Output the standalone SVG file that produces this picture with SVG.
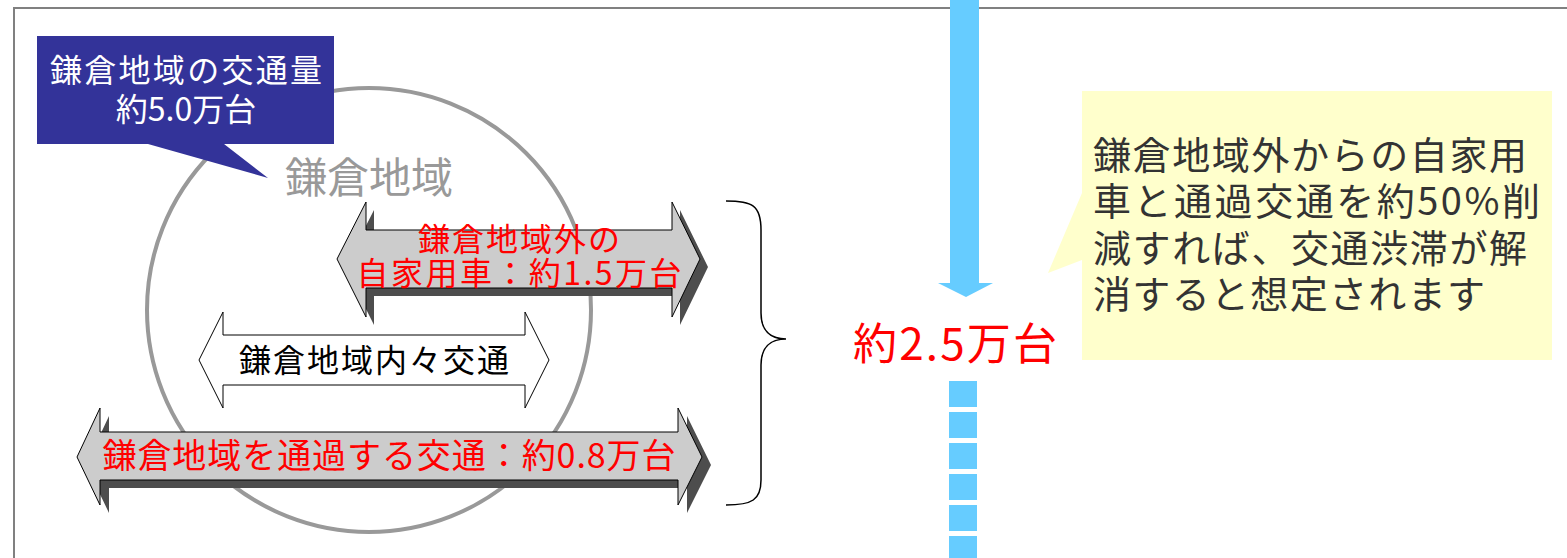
<svg xmlns="http://www.w3.org/2000/svg" width="1567" height="558" viewBox="0 0 1567 558">
<style>
text{font-family:"Noto Sans CJK JP","Noto Sans",sans-serif;}
.arr{fill:#CCCCCC;stroke:#000;stroke-width:1;}
.shadow{fill:#4D4D4D;}
.red{fill:#FF0000;text-anchor:middle;}
.blue{fill:#66CCFF;}
.note{font-size:38px;fill:#333333;}
</style>
<rect x="0" y="0" width="1567" height="558" fill="#FFFFFF"/>
<g id="frame">
<path d="M14,558 V8 H1567" fill="none" stroke="#808080" stroke-width="2"/>
</g>
<g id="region-circle">
<circle cx="369" cy="310" r="222" fill="none" stroke="#999999" stroke-width="4"/>
<text x="369" y="193" font-size="42" fill="#999999" text-anchor="middle">鎌倉地域</text>
</g>
<g id="callout-total">
<polygon points="37,36 334,36 334,144 224,144 268,178 148,144 37,144" fill="#333399"/>
<text x="186" y="82" font-size="32" fill="#FFFFFF" text-anchor="middle" textLength="272">鎌倉地域の交通量</text>
<text x="186" y="121" font-size="32" fill="#FFFFFF" text-anchor="middle">約5.0万台</text>
</g>
<g id="arrow-outside-cars">
<polygon class="shadow" transform="translate(8,8)" points="337,259 366,202 366,230 672,230 672,202 700,259 672,317 672,288 366,288 366,317"/>
<polygon class="arr" points="337,259 366,202 366,230 672,230 672,202 700,259 672,317 672,288 366,288 366,317"/>
<text class="red" x="519" y="251" font-size="32" textLength="202">鎌倉地域外の</text>
<text class="red" x="519" y="285" font-size="32" textLength="325">自家用車：約1.5万台</text>
</g>
<g id="arrow-internal">
<polygon points="199,360 223,312 223,335 525,335 525,312 549,360 525,408 525,385 223,385 223,408" fill="#FFFFFF" stroke="#000" stroke-width="1"/>
<text x="374" y="372" font-size="32" fill="#000000" text-anchor="middle" textLength="270">鎌倉地域内々交通</text>
</g>
<g id="arrow-through">
<polygon class="shadow" transform="translate(9,8)" points="77,457 100,408 100,432 678,432 678,408 702,457 678,505 678,480 100,480 100,505"/>
<polygon class="arr" points="77,457 100,408 100,432 678,432 678,408 702,457 678,505 678,480 100,480 100,505"/>
<text class="red" x="389" y="468" font-size="34" textLength="573">鎌倉地域を通過する交通：約0.8万台</text>
</g>
<g id="connectors">
<path d="M726,201 C752,201 761,205 761,230 V313 C761,330 770,339 786,339 C770,339 761,348 761,365 V480 C761,500 752,505 726,505" fill="none" stroke="#000" stroke-width="1.5"/>
<polygon class="blue" points="950,0 979,0 979,283 993,283 966,297 938,283 950,283"/>
<rect class="blue" x="949" y="381" width="28" height="26"/>
<rect class="blue" x="949" y="412" width="28" height="26"/>
<rect class="blue" x="949" y="443" width="28" height="26"/>
<rect class="blue" x="949" y="474" width="28" height="26"/>
<rect class="blue" x="949" y="505" width="28" height="26"/>
<rect class="blue" x="949" y="536" width="28" height="26"/>
</g>
<g id="result">
<text class="red" x="955" y="360" font-size="44" textLength="204">約2.5万台</text>
</g>
<g id="note">
<polygon points="1082,91 1552,91 1552,360 1082,360 1082,260 1048,273 1082,193" fill="#FFFFCC"/>
<text class="note" x="1093" y="169" textLength="434">鎌倉地域外からの自家用</text>
<text class="note" x="1093" y="215" textLength="447">車と通過交通を約50%削</text>
<text class="note" x="1093" y="262" textLength="434">減すれば、交通渋滞が解</text>
<text class="note" x="1093" y="308" textLength="392">消すると想定されます</text>
</g>
</svg>
